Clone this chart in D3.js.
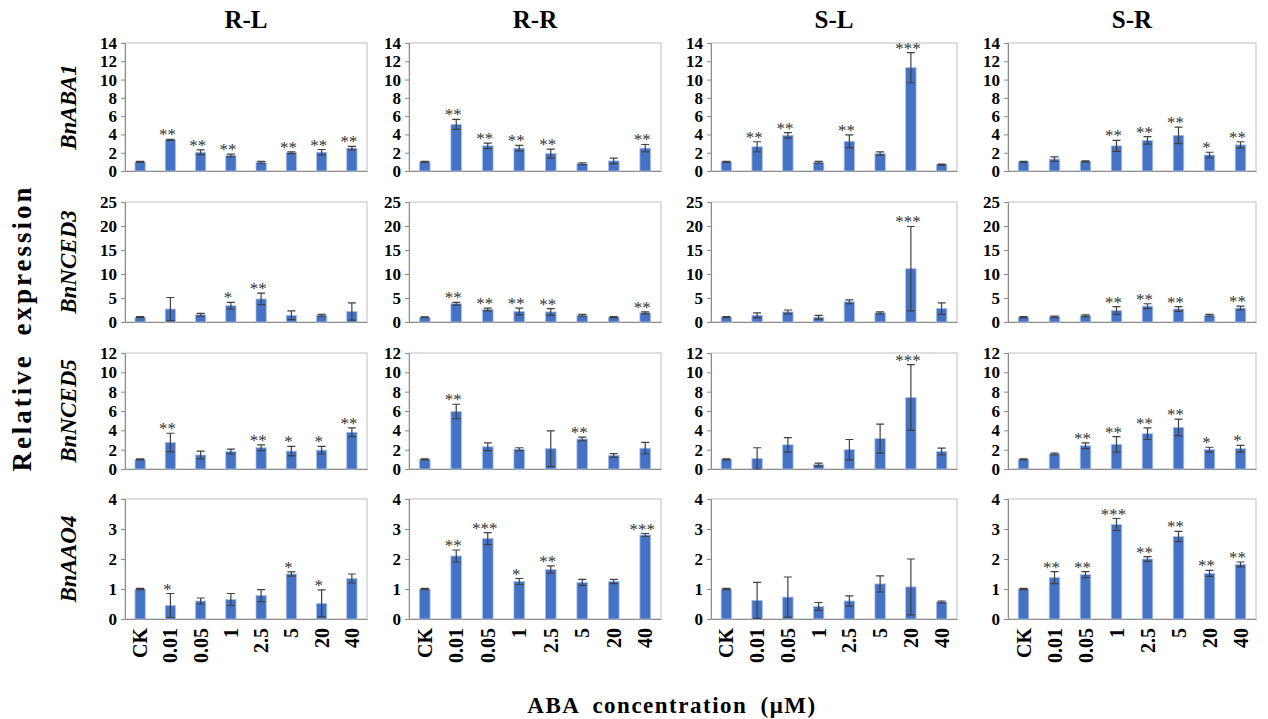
<!DOCTYPE html>
<html>
<head>
<meta charset="utf-8">
<script src="https://cdn.jsdelivr.net/npm/d3@7"></script>
<style>
  body { margin: 0; background: #fff; }
  svg { display: block; font-family: "Liberation Serif", "Times New Roman", serif; }
  svg text { font-family: "Liberation Serif", "Times New Roman", serif; }
</style>
</head>
<body>
<svg width="1268" height="719"></svg>
<script>
// Categories
const doses = ['CK', '0.01', '0.05', '1', '2.5', '5', '20', '40'];
const tissues = ['R-L', 'R-R', 'S-L', 'S-R'];
const genes = ['BnABA1', 'BnNCED3', 'BnNCED5', 'BnAAO4'];
const yMax = [14, 25, 12, 4];
const yStep = [2, 5, 2, 1];

// BnABA1 (one row per tissue)
const aba1Mean = [
  [1.0, 3.4, 2.05, 1.7, 0.95, 2.0, 2.05, 2.5],
  [1.0, 5.1, 2.75, 2.5, 1.9, 0.8, 1.1, 2.5],
  [1.0, 2.65, 3.9, 0.95, 3.25, 1.9, 11.3, 0.7],
  [1.0, 1.3, 1.05, 2.75, 3.35, 3.9, 1.75, 2.85]
];
const aba1Err = [
  [0.05, 0.05, 0.25, 0.15, 0.1, 0.1, 0.3, 0.2],
  [0.05, 0.55, 0.3, 0.3, 0.5, 0.1, 0.3, 0.4],
  [0.05, 0.55, 0.3, 0.1, 0.7, 0.2, 1.65, 0.05],
  [0.05, 0.25, 0.05, 0.6, 0.4, 0.9, 0.3, 0.35]
];
const aba1Sig = [
  ['', '**', '**', '**', '', '**', '**', '**'],
  ['', '**', '**', '**', '**', '', '', '**'],
  ['', '**', '**', '', '**', '', '***', ''],
  ['', '', '', '**', '**', '**', '*', '**']
];

// BnNCED3
const nced3Mean = [
  [1.0, 2.7, 1.5, 3.4, 4.8, 1.4, 1.4, 2.2],
  [1.0, 3.8, 2.6, 2.2, 2.1, 1.4, 1.0, 1.9],
  [1.0, 1.4, 2.1, 1.0, 4.2, 1.9, 11.1, 2.8],
  [1.0, 1.1, 1.3, 2.4, 3.3, 2.7, 1.4, 2.9]
];
const nced3Err = [
  [0.1, 2.4, 0.3, 0.7, 1.2, 0.9, 0.2, 1.8],
  [0.05, 0.3, 0.3, 0.7, 0.7, 0.2, 0.1, 0.2],
  [0.1, 0.5, 0.4, 0.4, 0.4, 0.2, 8.8, 1.2],
  [0.1, 0.15, 0.2, 0.8, 0.5, 0.5, 0.2, 0.4]
];
const nced3Sig = [
  ['', '', '', '*', '**', '', '', ''],
  ['', '**', '**', '**', '**', '', '', '**'],
  ['', '', '', '', '', '', '***', ''],
  ['', '', '', '**', '**', '**', '', '**']
];

// BnNCED5
const nced5Mean = [
  [1.0, 2.75, 1.45, 1.8, 2.2, 1.85, 1.95, 3.8],
  [1.0, 5.95, 2.3, 2.05, 2.1, 3.1, 1.4, 2.15],
  [1.0, 1.1, 2.5, 0.45, 2.0, 3.15, 7.4, 1.8],
  [1.0, 1.55, 2.4, 2.55, 3.65, 4.3, 2.0, 2.1]
];
const nced5Err = [
  [0.05, 0.95, 0.4, 0.25, 0.3, 0.5, 0.4, 0.45],
  [0.05, 0.75, 0.4, 0.15, 1.85, 0.2, 0.2, 0.6],
  [0.05, 1.1, 0.75, 0.15, 1.05, 1.5, 3.4, 0.35],
  [0.05, 0.1, 0.3, 0.8, 0.6, 0.85, 0.25, 0.35]
];
const nced5Sig = [
  ['', '**', '', '', '**', '*', '*', '**'],
  ['', '**', '', '', '', '**', '', ''],
  ['', '', '', '', '', '', '***', ''],
  ['', '', '**', '**', '**', '**', '*', '*']
];

// BnAAO4
const aao4Mean = [
  [1.0, 0.45, 0.6, 0.65, 0.78, 1.5, 0.52, 1.35],
  [1.0, 2.1, 2.68, 1.25, 1.65, 1.22, 1.25, 2.8],
  [1.0, 0.62, 0.73, 0.42, 0.6, 1.17, 1.07, 0.57],
  [1.0, 1.38, 1.48, 3.15, 2.0, 2.75, 1.52, 1.82]
];
const aao4Err = [
  [0.02, 0.4, 0.1, 0.2, 0.2, 0.07, 0.45, 0.15],
  [0.02, 0.2, 0.2, 0.1, 0.12, 0.1, 0.07, 0.05],
  [0.02, 0.6, 0.67, 0.13, 0.17, 0.27, 0.93, 0.03],
  [0.02, 0.2, 0.1, 0.2, 0.08, 0.17, 0.1, 0.08]
];
const aao4Sig = [
  ['', '*', '', '', '', '*', '*', ''],
  ['', '**', '***', '*', '**', '', '', '***'],
  ['', '', '', '', '', '', '', ''],
  ['', '**', '**', '***', '**', '**', '**', '**']
];

const means = [aba1Mean, nced3Mean, nced5Mean, aao4Mean];
const errs = [aba1Err, nced3Err, nced5Err, aao4Err];
const sigs = [aba1Sig, nced3Sig, nced5Sig, aao4Sig];

// panel layout
const colLeft = [125, 409, 711, 1008];
const colRight = [367, 661, 957, 1256];
const rowTop = [43, 202, 353, 499];
const rowBottom = [171, 322, 469, 619];

const svg = d3.select('svg');

tissues.forEach((t, c) => {
  svg.append('text')
    .attr('x', (colLeft[c] + colRight[c]) / 2)
    .attr('y', 28)
    .attr('text-anchor', 'middle')
    .attr('font-size', 25)
    .attr('font-weight', 'bold')
    .text(t);
});

genes.forEach((g, r) => {
  svg.append('text')
    .attr('transform', `translate(76,${(rowTop[r] + rowBottom[r]) / 2}) rotate(-90)`)
    .attr('text-anchor', 'middle')
    .attr('font-size', 23)
    .attr('font-weight', 'bold')
    .attr('font-style', 'italic')
    .text(g);
});

svg.append('text')
  .attr('transform', 'translate(31,328) rotate(-90)')
  .attr('text-anchor', 'middle')
  .attr('font-size', 27)
  .attr('font-weight', 'bold')
  .attr('letter-spacing', 3)
  .attr('word-spacing', 8)
  .text('Relative expression');

svg.append('text')
  .attr('x', 672)
  .attr('y', 713)
  .attr('text-anchor', 'middle')
  .attr('font-size', 23)
  .attr('font-weight', 'bold')
  .attr('letter-spacing', 1.5)
  .attr('word-spacing', 6)
  .text('ABA concentration (μM)');

genes.forEach((g, r) => {
  tissues.forEach((t, c) => {
    const x = d3.scaleBand().domain(doses).range([colLeft[c], colRight[c]]).paddingInner(0.66).paddingOuter(0.33);
    const y = d3.scaleLinear().domain([0, yMax[r]]).range([rowBottom[r], rowTop[r]]);
    const p = svg.append('g');

    // plot frame
    p.append('rect')
      .attr('x', colLeft[c]).attr('y', rowTop[r])
      .attr('width', colRight[c] - colLeft[c]).attr('height', rowBottom[r] - rowTop[r])
      .attr('fill', 'none').attr('stroke', '#bfbfbf').attr('stroke-width', 1);

    const yAxis = p.append('g')
      .attr('transform', `translate(${colLeft[c]},0)`)
      .call(d3.axisLeft(y)
        .tickValues(d3.range(0, yMax[r] + 0.001, yStep[r]))
        .tickFormat(d3.format('d'))
        .tickSize(4).tickPadding(4));
    yAxis.attr('font-family', null);
    yAxis.selectAll('line, path').attr('stroke', '#8c8c8c');
    yAxis.selectAll('text')
      .style('font-size', '17px').style('font-weight', 'bold')
      .attr('fill', '#000');

    const xAxis = p.append('g')
      .attr('transform', `translate(0,${rowBottom[r]})`)
      .call(d3.axisBottom(x).tickSize(0).tickFormat(r === 3 ? d => d : ''));
    xAxis.attr('font-family', null);
    xAxis.select('path').attr('stroke', '#8c8c8c');
    xAxis.selectAll('text')
      .style('font-size', '20px').style('font-weight', 'bold')
      .attr('fill', '#000')
      .attr('text-anchor', 'end')
      .attr('transform', 'rotate(-90)')
      .attr('x', -9).attr('y', 0).attr('dy', '0.35em');

    const rows = doses.map((d, i) => ({ d, m: means[r][c][i], e: errs[r][c][i], s: sigs[r][c][i] }));

    p.selectAll('.bar').data(rows).enter().append('rect')
      .attr('x', d => x(d.d))
      .attr('y', d => y(d.m))
      .attr('width', x.bandwidth())
      .attr('height', d => y(0) - y(d.m))
      .attr('fill', '#4472c4')
      .attr('stroke', '#a9c1ec').attr('stroke-width', 0.8);

    const cx = d => x(d.d) + x.bandwidth() / 2;
    p.selectAll('.err').data(rows).enter().append('path')
      .attr('d', d => {
        const y1 = y(d.m + d.e), y2 = y(Math.max(0, d.m - d.e)), xc = cx(d);
        return `M${xc},${y1}V${y2}M${xc - 4},${y1}H${xc + 4}M${xc - 4},${y2}H${xc + 4}`;
      })
      .attr('fill', 'none').attr('stroke', '#404040').attr('stroke-width', 1.2);

    p.selectAll('.sig').data(rows.filter(d => d.s)).enter().append('text')
      .attr('x', d => cx(d) - 3)
      .attr('y', d => y(d.m + d.e) + 1)
      .attr('text-anchor', 'middle')
      .style('font-size', '17px')
      .attr('fill', '#333')
      .text(d => d.s);
  });
});
</script>
</body>
</html>
